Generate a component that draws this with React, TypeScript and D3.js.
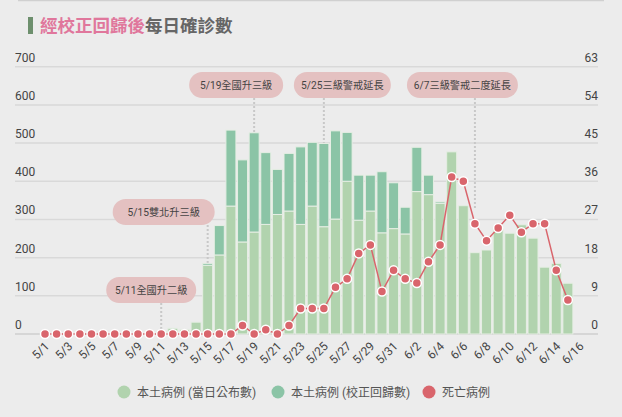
import React from "react";
import * as d3 from "d3";

const dates: string[] = [
  "5/1","5/2","5/3","5/4","5/5","5/6","5/7","5/8","5/9","5/10",
  "5/11","5/12","5/13","5/14","5/15","5/16","5/17","5/18","5/19","5/20",
  "5/21","5/22","5/23","5/24","5/25","5/26","5/27","5/28","5/29","5/30","5/31",
  "6/1","6/2","6/3","6/4","6/5","6/6","6/7","6/8","6/9","6/10",
  "6/11","6/12","6/13","6/14","6/15","6/16",
];

// 本土病例（當日公布數）
const announced: (number | null)[] = [
  0,0,0,0,0,0,0,0,0,0,
  7,15,12,31,180,207,335,241,267,287,
  313,322,287,335,281,301,400,298,322,265,276,
  262,373,365,342,477,336,213,220,277,264,
  286,251,175,185,133,null,
];

// 本土病例（校正回歸數）
const backlog: (number | null)[] = [
  0,0,0,0,0,0,0,0,0,0,
  0,0,0,0,5,77,199,215,260,188,
  118,151,203,167,218,231,128,118,94,160,120,
  70,116,51,4,0,0,0,0,0,0,
  0,0,0,0,0,null,
];

// 死亡病例
const deaths: (number | null)[] = [
  0,0,0,0,0,0,0,0,0,0,
  0,0,0,0,0,0,0,2,0,1,
  0,2,6,6,6,11,13,19,21,10,15,
  13,12,17,21,37,36,26,22,25,28,
  24,26,26,15,8,null,
];

const leftTicks: number[] = [0, 100, 200, 300, 400, 500, 600, 700];
const rightTicks: number[] = [0, 9, 18, 27, 36, 45, 54, 63];

const annDates: string[] = ["5/11", "5/15", "5/19", "5/25", "6/7"];
const annLabels: string[] = ["5/11全國升二級", "5/15雙北升三級", "5/19全國升三級", "5/25三級警戒延長", "6/7三級警戒二度延長"];
const annLineEnd: number[] = [0, 185, 527, 499, 325];

const legendLabels: string[] = ["本土病例 (當日公布數)", "本土病例 (校正回歸數)", "死亡病例"];

// layout for annotation boxes (pixel offset of box left edge from marker line, width, top)
const annLayout = [
  { dx: -55, w: 90, top: 277 },
  { dx: -95, w: 102, top: 199 },
  { dx: -65, w: 94, top: 72 },
  { dx: -30, w: 97, top: 72 },
  { dx: -68, w: 111, top: 72 },
];

const W = 622, H = 417;
const C_LIGHT = "#b1d3ae";
const C_DARK = "#8bc4a6";
const C_RED = "#d9656c";
const FONT = "Roboto, 'Noto Sans CJK TC', sans-serif";

export default function App() {
  const x = d3.scaleBand<string>()
    .domain(dates)
    .range([39.2, 585.3])
    .paddingInner(0.14)
    .paddingOuter(0.07);
  const y = d3.scaleLinear().domain([0, 700]).range([334, 66.7]);
  const y2 = d3.scaleLinear().domain([0, 63]).range([334, 66.7]);
  const cx = (d: string) => (x(d) as number) + x.bandwidth() / 2;

  const stackData = dates.map((d, i) => ({ date: d, a: announced[i] ?? 0, b: backlog[i] ?? 0 }));
  const stacked = d3.stack<any>().keys(["a", "b"])(stackData);
  const colors = [C_LIGHT, C_DARK];

  const deathPts = dates.map((d, i) => ({ d, v: deaths[i] })).filter((p) => p.v !== null) as { d: string; v: number }[];
  const line = d3.line<{ d: string; v: number }>().x((p) => cx(p.d)).y((p) => y2(p.v));

  const gx0 = 15, gx1 = 598;

  return (
    <svg width={W} height={H} style={{ position: "absolute", left: 0, top: 0, background: "#ececec" }} fontFamily={FONT}>
      <rect x={0} y={0} width={W} height={H} fill="#ececec" />
      <line x1={18} x2={604} y1={0.5} y2={0.5} stroke="#d0d0d0" strokeWidth={1.5} />
      {/* title */}
      <rect x={28} y={17} width={5} height={17} fill="#6d8f6d" />
      <text x={40} y={32} fontSize={17.5} fontWeight="bold" fontFamily="'Noto Sans CJK TC', sans-serif">
        <tspan fill="#e0779c">經校正回歸後</tspan>
        <tspan fill="#666666">每日確診數</tspan>
      </text>

      {/* grid */}
      {leftTicks.map((t) => (
        <line key={"g" + t} x1={gx0} x2={gx1} y1={y(t)} y2={y(t)} stroke={t === 0 ? "#cfcfcf" : "#d9d9d9"} strokeWidth={1.5} />
      ))}
      {leftTicks.map((t) => (
        <text key={"l" + t} x={gx0} y={y(t) - 5} fontSize={12} fill="#444">{t}</text>
      ))}
      {rightTicks.map((t) => (
        <text key={"r" + t} x={gx1} y={y2(t) - 5} fontSize={12} fill="#444" textAnchor="end">{t}</text>
      ))}

      {/* annotation lines */}
      {annDates.map((d, i) => (
        <line key={"al" + i} x1={cx(d)} x2={cx(d)} y1={annLayout[i].top + 26} y2={y(annLineEnd[i])}
          stroke="#c8c8c8" strokeWidth={2} strokeDasharray="2,2" />
      ))}

      {/* bars */}
      {stacked.map((s, k) => (
        <g key={"s" + k}>
          {s.map((p: any, i: number) => {
            if (p[1] - p[0] <= 0) return null;
            return (
              <rect key={i} x={x(dates[i])} width={x.bandwidth()} y={y(p[1])} height={y(p[0]) - y(p[1])}
                fill={colors[k]} stroke="#e6eee4" strokeWidth={1} />
            );
          })}
        </g>
      ))}

      {/* annotation boxes */}
      {annDates.map((d, i) => {
        const L = annLayout[i];
        const bx = cx(d) + L.dx;
        return (
          <g key={"ab" + i}>
            <rect x={bx} y={L.top} width={L.w} height={26} rx={13} fill="#e4c1c1" />
            <text x={bx + L.w / 2} y={L.top + 16.8} fontSize={10.2} fill="#444" textAnchor="middle">{annLabels[i]}</text>
          </g>
        );
      })}

      {/* death line */}
      <path d={line(deathPts) || ""} fill="none" stroke={C_RED} strokeWidth={1.5} />
      {deathPts.map((p, i) => (
        <circle key={"c" + i} cx={cx(p.d)} cy={y2(p.v)} r={4.5} fill={C_RED} stroke="#fff" strokeWidth={1.5} />
      ))}

      {/* x labels */}
      {dates.map((d, i) => i % 2 === 0 ? (
        <text key={"x" + i} transform={`translate(${cx(d) + 5},${347}) rotate(-45)`} fontSize={12} fill="#444" textAnchor="end">{d}</text>
      ) : null)}

      {/* legend */}
      {[{ c: C_LIGHT, x: 124 }, { c: C_DARK, x: 278 }, { c: C_RED, x: 429 }].map((l, i) => (
        <g key={"lg" + i}>
          <circle cx={l.x} cy={392} r={6.5} fill={l.c} />
          <text x={l.x + 13} y={396.5} fontSize={12} fill="#555">{legendLabels[i]}</text>
        </g>
      ))}
    </svg>
  );
}
